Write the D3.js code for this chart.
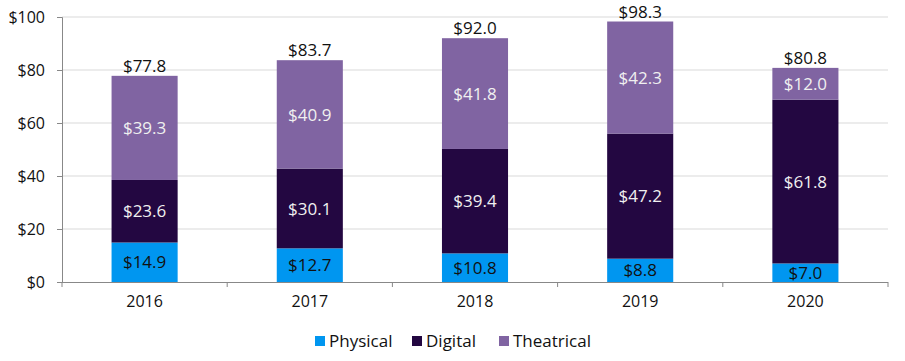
<!DOCTYPE html>
<html><head><meta charset="utf-8">
<script src="https://cdn.jsdelivr.net/npm/d3@7"></script>
<style>body{margin:0;background:#fff}svg{display:block;font-family:"Open Sans",sans-serif}</style>
</head><body><svg id="c" width="905" height="361"></svg>
<script>
const years = ["2016","2017","2018","2019","2020"];
const physical = [14.9,12.7,10.8,8.8,7.0];
const digital = [23.6,30.1,39.4,47.2,61.8];
const theatrical = [39.3,40.9,41.8,42.3,12.0];
const totals = [77.8,83.7,92.0,98.3,80.8];
const yTicks = [0,20,40,60,80,100];
const seriesNames = ["Physical","Digital","Theatrical"];
const colors = ["#0096f0","#230741","#8064a2"];
const labelColors = ["#111","#f0f0f0","#f0f0f0"];
const FONT = '"Open Sans",sans-serif';

const svg = d3.select("#c");
const x = d3.scaleBand().domain(years).range([62,888]).paddingInner(0.6).paddingOuter(0.3);
const y = d3.scaleLinear().domain([0,100]).range([282,17]);

svg.append("g").selectAll("line").data(yTicks.slice(1)).join("line")
  .attr("x1",62).attr("x2",888).attr("y1",d=>y(d)).attr("y2",d=>y(d))
  .attr("stroke","#d9d9d9").attr("stroke-width",1);

const yAxis = svg.append("g").attr("transform","translate(62,0)")
  .call(d3.axisLeft(y).tickValues(yTicks).tickFormat(d=>"$"+d).tickSize(5).tickPadding(12));
yAxis.select(".domain").attr("stroke","#888");
yAxis.selectAll(".tick line").attr("stroke","#888");
yAxis.selectAll("text").attr("font-size",16).attr("fill","#111").attr("font-family",FONT);

const data = years.map((yr,i)=>({yr,vals:[physical[i],digital[i],theatrical[i]]}));
data.forEach((d,i)=>{
  let base=0;
  d.vals.forEach((v,s)=>{
    const y0=base, y1=base+v; base=y1;
    svg.append("rect").attr("x",x(d.yr)).attr("width",x.bandwidth())
      .attr("y",y(y1)).attr("height",y(y0)-y(y1)).attr("fill",colors[s]);
    svg.append("text").attr("x",x(d.yr)+x.bandwidth()/2).attr("y",(y(y0)+y(y1))/2)
      .attr("dy","0.36em").attr("text-anchor","middle").attr("font-size",17)
      .attr("fill",labelColors[s]).text("$"+v.toFixed(1));
  });
  svg.append("text").attr("x",x(d.yr)+x.bandwidth()/2).attr("y",y(totals[i])-4)
    .attr("text-anchor","middle").attr("font-size",17).attr("fill","#111")
    .text("$"+totals[i].toFixed(1));
});

// x axis
svg.append("line").attr("x1",62).attr("x2",888).attr("y1",282.5).attr("y2",282.5).attr("stroke","#888");
const bounds = d3.range(6).map(k=>62+k*(826/5));
svg.append("g").selectAll("line").data(bounds).join("line")
  .attr("x1",d=>d).attr("x2",d=>d).attr("y1",282).attr("y2",287).attr("stroke","#888");
svg.append("g").selectAll("text").data(years).join("text")
  .attr("x",d=>x(d)+x.bandwidth()/2).attr("y",307).attr("text-anchor","middle")
  .attr("font-size",16).attr("fill","#111").text(d=>d);

// legend
const leg = svg.append("g");
const items = [{x:315},{x:412},{x:499}];
items.forEach((it,i)=>{
  leg.append("rect").attr("x",it.x).attr("y",336).attr("width",10).attr("height",10).attr("fill",colors[i]);
  leg.append("text").attr("x",it.x+14).attr("y",347).attr("font-size",17).attr("fill","#111").text(seriesNames[i]);
});
</script></body></html>
